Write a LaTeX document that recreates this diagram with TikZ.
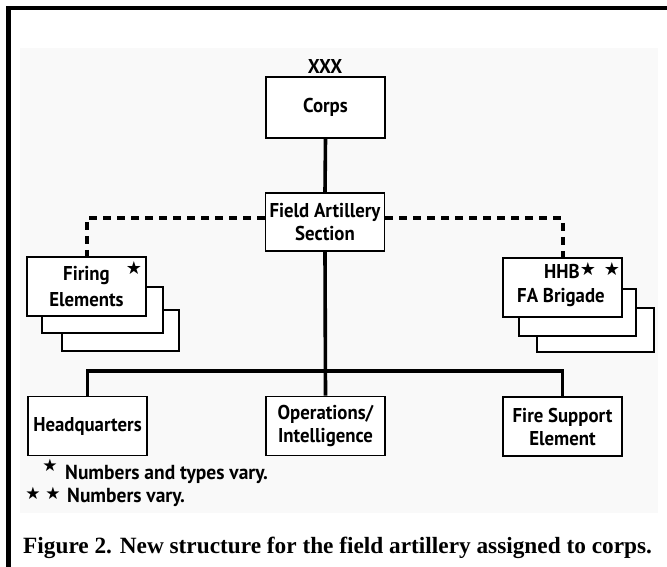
\documentclass[tikz,border=0pt]{standalone}
\usepackage{fontspec}
\newfontfamily\bxf[FakeStretch=0.94]{PT Sans}
\newfontfamily\lgf[FakeStretch=0.96]{PT Sans}
\newfontfamily\capf{Liberation Serif}
\newfontfamily\symf{DejaVu Sans}
\begin{document}
\begin{tikzpicture}[x=1pt,y=-1pt,
 box/.style={draw=black, line width=1.8pt, fill=white, inner sep=0pt, align=center,
   minimum width=119pt, minimum height=59pt, font=\bxf\bfseries\fontsize{20}{23}\selectfont},
 lbl/.style={inner sep=0pt, font=\bxf\bfseries\fontsize{20}{23}\selectfont},
 lgd/.style={inner sep=0pt, anchor=west, font=\lgf\bfseries\fontsize{20.3}{23}\selectfont},
 conn/.style={line width=3.6pt},
 dconn/.style={line width=4pt, dash pattern=on 8pt off 6pt},
 starn/.style={inner sep=0pt, font=\symf\fontsize{18}{18}\selectfont},
 lstar/.style={inner sep=0pt, font=\symf\fontsize{17}{17}\selectfont}]
\useasboundingbox (0,0) rectangle (667,567);
\fill[white] (0,0) rectangle (667,567);
\fill[black!2.5] (20,48) rectangle (658,513);
\fill[black] (6,6) rectangle (667,10);
\fill[black] (6,6) rectangle (11,567);
% top
\node[lbl] (xxx) at (325,67) {XXX};
\node[box, minimum height=61pt] (corps) at (325.5,107.5) {Corps};
\node[box, minimum height=58pt] (fas) at (325,222) {Field Artillery\\Section};
% firing elements
\node[box, minimum width=117pt, minimum height=41pt] (fe3) at (120.5,330.5) {};
\node[box, minimum width=121pt, minimum height=46pt] (fe2) at (102.5,310) {};
\node[box, font=\bxf\bfseries\fontsize{20}{26}\selectfont] (fe1) at (86.5,286.5) {Firing\\Elements};
\node[starn] (fest) at (134,268) {★};
% HHB
\node[box, minimum width=117pt, minimum height=44pt] (hh3) at (595.5,330) {};
\node[box, minimum width=117pt, minimum height=47pt] (hh2) at (577.5,312.5) {};
\node[box] (hh1) at (562.5,287.5) {};
\node[lbl] (hhb) at (562,271) {HHB};
\node[starn] (hst1) at (588,269) {★};
\node[starn] (hst2) at (612,269) {★};
\node[lbl] (fab) at (561,298) {FA Brigade};
% bottom row
\node[box] (hq) at (87.5,426) {Headquarters};
\node[box] (ops) at (325.5,426) {Operations/\\Intelligence};
\node[box] (fse) at (562.5,426.5) {Fire Support\\Element};
% connectors
\coordinate (bus) at (325,371);
\draw[conn] (corps.south) -- (fas.north);
\draw[conn] (fas.south) -- (ops.north);
\draw[conn] (hq.north) |- (bus) -| (fse.north);
\draw[dconn] ([yshift=4pt]fas.west) -| (fe1.north);
\draw[dconn] ([yshift=4pt]fas.east) -| (hh1.north);
% legend
\node[lstar] (ls1) at (50,465) {★};
\node[lgd] (lt1) at (65,474) {Numbers and types vary.};
\node[lstar] (ls2) at (33,493) {★};
\node[lstar] (ls3) at (53,493) {★};
\node[lgd] (lt2) at (67,497) {Numbers vary.};
% caption
\node[anchor=base west, inner sep=0pt, font=\capf\bfseries\fontsize{23.3}{23.3}\selectfont] (cap) at (23,553)
  {Figure 2. New structure for the field artillery assigned to corps.};
\end{tikzpicture}
\end{document}
